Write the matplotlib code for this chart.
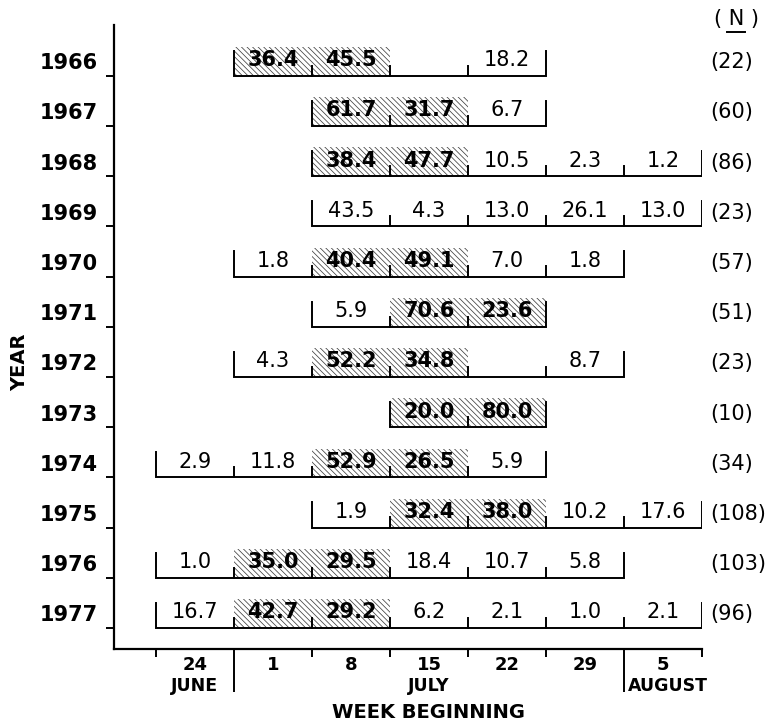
import matplotlib
matplotlib.use("Agg")
import matplotlib.pyplot as plt
from matplotlib.patches import Rectangle

# ---------------- data ----------------
years = [1966, 1967, 1968, 1969, 1970, 1971, 1972, 1973, 1974, 1975, 1976, 1977]
start_week = [1, 2, 2, 2, 1, 2, 1, 3, 0, 2, 0, 0]
percents = [
    [36.4, 45.5, None, 18.2],
    [61.7, 31.7, 6.7],
    [38.4, 47.7, 10.5, 2.3, 1.2],
    [43.5, 4.3, 13.0, 26.1, 13.0],
    [1.8, 40.4, 49.1, 7.0, 1.8],
    [5.9, 70.6, 23.6],
    [4.3, 52.2, 34.8, None, 8.7],
    [20.0, 80.0],
    [2.9, 11.8, 52.9, 26.5, 5.9],
    [1.9, 32.4, 38.0, 10.2, 17.6],
    [1.0, 35.0, 29.5, 18.4, 10.7, 5.8],
    [16.7, 42.7, 29.2, 6.2, 2.1, 1.0, 2.1],
]
shaded_weeks = [[1, 2], [2, 3], [2, 3], [], [2, 3], [3, 4], [2, 3], [3, 4],
                [2, 3], [3, 4], [1, 2], [1, 2]]
n_values = [22, 60, 86, 23, 57, 51, 23, 10, 34, 108, 103, 96]
week_days = ["24", "1", "8", "15", "22", "29", "5"]
months = [("JUNE", 0), ("JULY", 3), ("AUGUST", 6)]
month_breaks = [1, 6]

# ---------------- layout ----------------
W, H = 772, 725
plt.rcParams['font.family'] = ['DejaVu Sans']
plt.rcParams['hatch.linewidth'] = 0.55

fig = plt.figure(figsize=(W / 100, H / 100), dpi=100)

X0PX, BINPX = 156.0, 78.0
Y0PX, ROWPX = 75.7, 50.2

def px2x(p):
    return (p - X0PX) / BINPX

def py2y(p):
    return (p - Y0PX) / ROWPX

ax_left, ax_right, ax_top, ax_bot = 114, 702, 25, 649.3
ax = fig.add_axes([ax_left / W, 1 - ax_bot / H, (ax_right - ax_left) / W, (ax_bot - ax_top) / H])
ax.set_xlim(px2x(ax_left), px2x(ax_right))
ax.set_ylim(py2y(ax_bot), py2y(ax_top))

for s in ["top", "right"]:
    ax.spines[s].set_visible(False)
for s in ["left", "bottom"]:
    ax.spines[s].set_linewidth(1.6)

# y ticks
ax.set_yticks(range(len(years)))
ax.set_yticklabels([])
ax.tick_params(axis="y", direction="out", length=6, width=1.4)

# x ticks: short at week boundaries, long at month breaks
edges = list(range(len(week_days) + 1))
ax.set_xticks([e for e in edges if e not in month_breaks])
ax.set_xticks(month_breaks, minor=True)
ax.set_xticklabels([])
ax.tick_params(axis="x", which="major", direction="out", length=6, width=1.4)
ax.tick_params(axis="x", which="minor", direction="out", length=31, width=1.4)

lw = 1.4
h_end = 0.50
h_sep = 0.20
h_hatch = 0.57

for i, (yr, s0, vals, sh) in enumerate(zip(years, start_week, percents, shaded_weeks)):
    y = i
    x_start = s0
    x_end = s0 + len(vals)
    # hatched cells
    for w in sh:
        ax.add_patch(Rectangle((w, y - h_hatch), 1, h_hatch, facecolor="white",
                               edgecolor="#404040", linewidth=0, hatch="\\" * 6, zorder=1))
    # bracket
    ax.plot([x_start, x_start, x_end, x_end], [y - h_end, y, y, y - h_end],
            color="black", lw=lw, solid_joinstyle="miter", zorder=3)
    for k in range(x_start + 1, x_end):
        ax.plot([k, k], [y, y - h_sep], color="black", lw=lw, zorder=3)
    # values
    for j, v in enumerate(vals):
        if v is None:
            continue
        w = s0 + j
        bold = w in sh
        ax.text(w + 0.5, y - 0.31, f"{v:.1f}", ha="center", va="center",
                fontsize=15, fontweight="bold" if bold else "normal", zorder=4)
    # year label
    ax.text(px2x(98), y - 0.25, str(yr), ha="right", va="center",
            fontsize=15, fontweight="bold", clip_on=False)
    # N label
    ax.text(px2x(710), y - 0.27, f"({n_values[i]})", ha="left", va="center",
            fontsize=15, clip_on=False)

# (N) header
ax.text(px2x(736), py2y(19), "( N )", ha="center", va="center", fontsize=15,
        clip_on=False)
ax.plot([px2x(727), px2x(745)], [py2y(32), py2y(32)], color="black", lw=1.4, clip_on=False)

# week labels
for k, d in enumerate(week_days):
    ax.text(k + 0.5, py2y(665), d, ha="center", va="center", fontsize=13,
            fontweight="bold", clip_on=False)
month_x = {"JUNE": 195, "JULY": 429, "AUGUST": 668}
for name, k in months:
    ax.text(px2x(month_x[name]), py2y(686), name, ha="center", va="center", fontsize=12.5,
            fontweight="bold", clip_on=False)

ax.text(3.5, py2y(712), "WEEK BEGINNING", ha="center", va="center", fontsize=14,
        fontweight="bold", clip_on=False)
ax.text(px2x(20), py2y(362), "YEAR", ha="center", va="center", fontsize=14,
        fontweight="bold", rotation=90, clip_on=False)

fig.savefig("out.png", dpi=100)
